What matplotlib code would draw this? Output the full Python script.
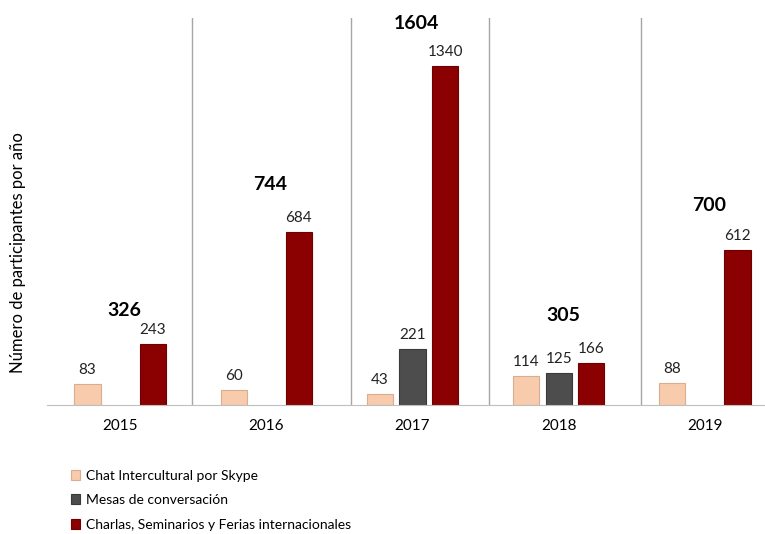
import numpy as np
import matplotlib.pyplot as plt

plt.rcParams['font.family'] = ['Lato', 'DejaVu Sans']

# datos
anios = ['2015', '2016', '2017', '2018', '2019']
chat = [83, 60, 43, 114, 88]
mesas = [0, 0, 221, 125, 0]
charlas = [243, 684, 1340, 166, 612]
totales = [326, 744, 1604, 305, 700]

series = [
    ('Chat Intercultural por Skype', chat, '#F8CBAD', '#d9ad90'),
    ('Mesas de conversación', mesas, '#4D4D4D', '#3a3a3a'),
    ('Charlas, Seminarios y Ferias internacionales', charlas, '#8B0000', '#6e0000'),
]

# lineas divisorias (puestas a mano en el original, no exactamente al medio)
separadores = [0.49, 1.58, 2.52, 3.56]
# separacion vertical (pt) de cada total respecto a la barra mas alta
desfase_totales = [24, 34, 31, 34, 32]

fig = plt.figure(figsize=(7.65, 5.34), dpi=100)
ax = fig.add_axes([47/765, 129/534, 731/765, 387/534])

x = np.arange(len(anios))
ancho = 0.178
offsets = [-0.223, 0.0, 0.223]

for (nombre, vals, color, borde), off in zip(series, offsets):
    vals = np.array(vals)
    mask = vals > 0
    barras = ax.bar(x[mask] + off, vals[mask], width=ancho, color=color,
                    edgecolor=borde, linewidth=0.8, label=nombre)
    for b, v in zip(barras, vals[mask]):
        ax.annotate(str(v), (b.get_x() + b.get_width()/2, v),
                    xytext=(0, 5), textcoords='offset points',
                    ha='center', va='bottom', fontsize=11, color='#222222')

# totales en negrita
maximos = np.max([chat, mesas, charlas], axis=0)
for i, (t, m, dy) in enumerate(zip(totales, maximos, desfase_totales)):
    ax.annotate(str(t), (i, m), xytext=(3, dy), textcoords='offset points',
                ha='center', va='center', fontsize=14, fontweight='bold')

for s in separadores:
    ax.axvline(s, color='#a6a6a6', linewidth=1)

ax.set_xlim(-0.5, 4.5)
ax.set_ylim(0, 1530)
ax.set_xticks(x)
ax.set_xticklabels(anios, fontsize=11)
ax.tick_params(axis='x', length=0, pad=10)
ax.set_yticks([])
for lado in ['left', 'right', 'top']:
    ax.spines[lado].set_visible(False)
ax.spines['bottom'].set_color('#bfbfbf')
ax.set_ylabel('Número de participantes por año', fontsize=12)
ax.yaxis.set_label_coords(-0.029, 0.395)

fig.legend(loc='upper left', bbox_to_anchor=(0.085, 0.131), frameon=False,
           fontsize=10, handlelength=0.7, handleheight=0.7,
           handletextpad=0.4, labelspacing=0.9, borderaxespad=0)

fig.savefig('out.png', dpi=100)
